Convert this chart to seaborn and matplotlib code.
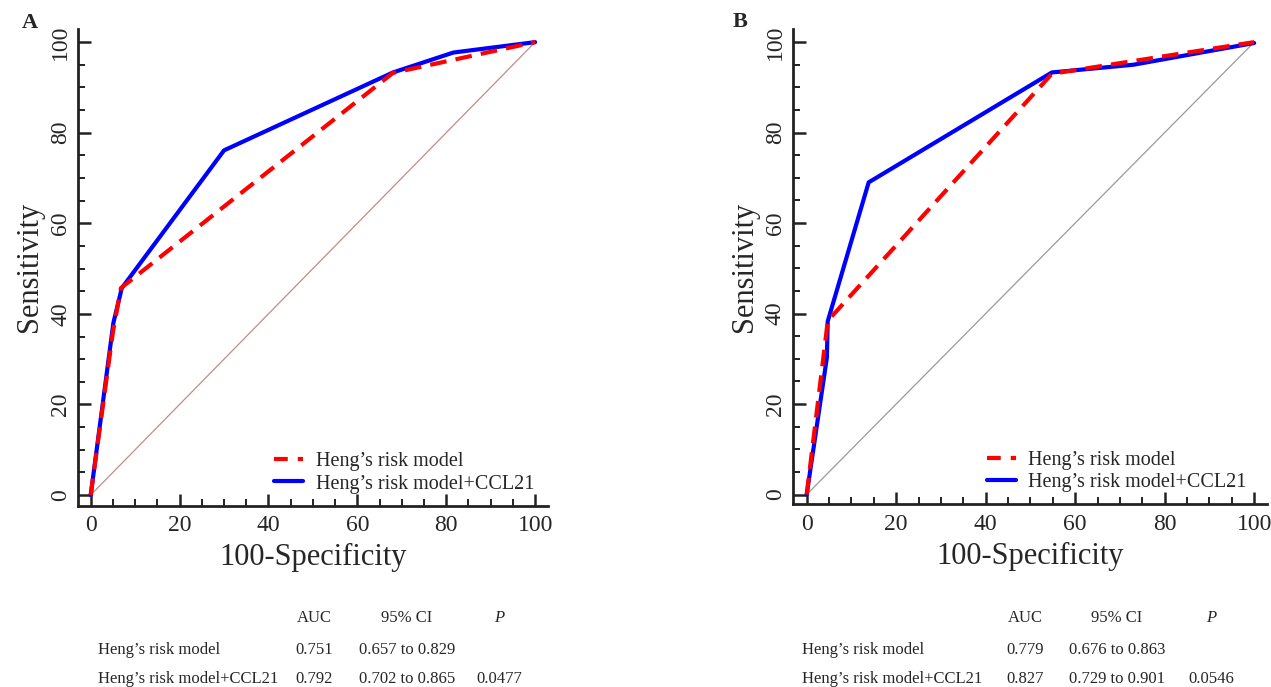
import matplotlib
matplotlib.use('Agg')
import numpy as np
import pandas as pd
import seaborn as sns
import matplotlib.pyplot as plt
from matplotlib.ticker import MultipleLocator

# === Dados ===
# Painel A
a_heng_x = [0, 5.0, 6.8, 68.0, 100]
a_heng_y = [0, 36.0, 45.7, 93.2, 100]
a_ccl_x = [0, 5.1, 7.0, 30.0, 68.0, 81.6, 100]
a_ccl_y = [0, 38.0, 45.7, 76.1, 93.3, 97.7, 100]

# Painel B
b_heng_x = [0, 4.3, 4.7, 54.8, 100]
b_heng_y = [0, 35.0, 38.4, 93.0, 100]
b_ccl_x = [0, 4.5, 4.7, 13.85, 54.8, 73.0, 100]
b_ccl_y = [0, 30.2, 38.3, 69.0, 93.3, 95.0, 99.8]

diag = [0, 100]

lab_heng = 'Heng’s risk model'
lab_ccl = 'Heng’s risk model+CCL21'

# tabela
tab_a = [['0.751', '0.657 to 0.829', ''], ['0.792', '0.702 to 0.865', '0.0477']]
tab_b = [['0.779', '0.676 to 0.863', ''], ['0.827', '0.729 to 0.901', '0.0546']]

# === Estilo ===
sns.set_theme(style='ticks')
plt.rcParams['font.family'] = ['Liberation Serif', 'DejaVu Serif']

W, H = 1271, 687
fig = plt.figure(figsize=(W / 100, H / 100), dpi=100)


def px_axes(left, right, bottom, top):
    return fig.add_axes([left / W, 1 - bottom / H, (right - left) / W, (bottom - top) / H])


def painel(ax, hx, hy, cx, cy, diag_color, xlim, ylim, leg_x):
    df_h = pd.DataFrame({'x': hx, 'y': hy})
    df_c = pd.DataFrame({'x': cx, 'y': cy})
    df_d = pd.DataFrame({'x': diag, 'y': diag})
    sns.lineplot(data=df_d, x='x', y='y', ax=ax, color=diag_color, lw=0.9, sort=False)
    sns.lineplot(data=df_c, x='x', y='y', ax=ax, color='#0000ff', lw=3.0, sort=False,
                 label=lab_ccl)
    sns.lineplot(data=df_h, x='x', y='y', ax=ax, color='#ff0000', lw=3.0, sort=False,
                 label=lab_heng)
    ax.lines[-1].set_dashes([4, 2.2])
    ax.set_xlim(*xlim)
    ax.set_ylim(*ylim)
    ax.xaxis.set_major_locator(MultipleLocator(20))
    ax.yaxis.set_major_locator(MultipleLocator(20))
    ax.xaxis.set_minor_locator(MultipleLocator(5))
    ax.yaxis.set_minor_locator(MultipleLocator(5))
    ax.tick_params(which='major', direction='in', length=9, width=1.8, labelsize=17,
                   color='#222222', pad=7)
    ax.tick_params(axis='y', which='major', pad=5)
    ax.tick_params(which='minor', direction='in', length=5, width=1.4, color='#222222')
    for lbl in ax.get_yticklabels():
        lbl.set_rotation(90)
        lbl.set_va('center')
    sns.despine(ax=ax)
    for s in ['left', 'bottom']:
        ax.spines[s].set_linewidth(2.0)
        ax.spines[s].set_color('#222222')
    ax.set_xlabel('100-Specificity', fontsize=22, labelpad=5)
    ax.set_ylabel('Sensitivity', fontsize=22, labelpad=4)
    h, l = ax.get_legend_handles_labels()
    leg = ax.legend(h[::-1], l[::-1], loc='lower right', frameon=False, fontsize=14.5,
                    handlelength=1.45, handletextpad=0.6, borderaxespad=0.3,
                    labelspacing=0.15, bbox_to_anchor=(leg_x, -0.004))
    for ln in leg.get_lines():
        ln.set_linewidth(3.0)
    leg.get_lines()[0].set_dashes([3.3, 2.4])


axA = px_axes(78, 548, 505.7, 29)
painel(axA, a_heng_x, a_heng_y, a_ccl_x, a_ccl_y, '#c48a8a', (-2.86, 102.9), (-2.36, 102.9), 1.0)
axB = px_axes(792.7, 1266.7, 504, 29)
painel(axB, b_heng_x, b_heng_y, b_ccl_x, b_ccl_y, '#9a9a9a', (-3.13, 102.8), (-2.1, 102.9), 0.987)

fig.text(22 / W, 1 - 23 / H, 'A', fontsize=16, fontweight='bold', va='center')
fig.text(733 / W, 1 - 22 / H, 'B', fontsize=16, fontweight='bold', va='center')


def tabela(x_lab, x_auc, x_ci, x_p, linhas):
    y_head, y_rows = 618, [650, 679]
    fs = 12
    fig.text(x_auc / W, 1 - y_head / H, 'AUC', ha='center', va='center', fontsize=fs)
    fig.text(x_ci / W, 1 - y_head / H, '95% CI', ha='center', va='center', fontsize=fs)
    fig.text(x_p / W, 1 - y_head / H, 'P', ha='center', va='center', fontsize=fs,
             style='italic')
    for yy, nome, vals in zip(y_rows, [lab_heng, lab_ccl], linhas):
        fig.text(x_lab / W, 1 - yy / H, nome, ha='left', va='center', fontsize=fs)
        fig.text(x_auc / W, 1 - yy / H, vals[0], ha='center', va='center', fontsize=fs)
        fig.text(x_ci / W, 1 - yy / H, vals[1], ha='center', va='center', fontsize=fs)
        fig.text(x_p / W, 1 - yy / H, vals[2], ha='center', va='center', fontsize=fs)


tabela(98, 314, 407, 499, tab_a)
tabela(802, 1025, 1117, 1211, tab_b)

fig.savefig('out.png', dpi=100)
